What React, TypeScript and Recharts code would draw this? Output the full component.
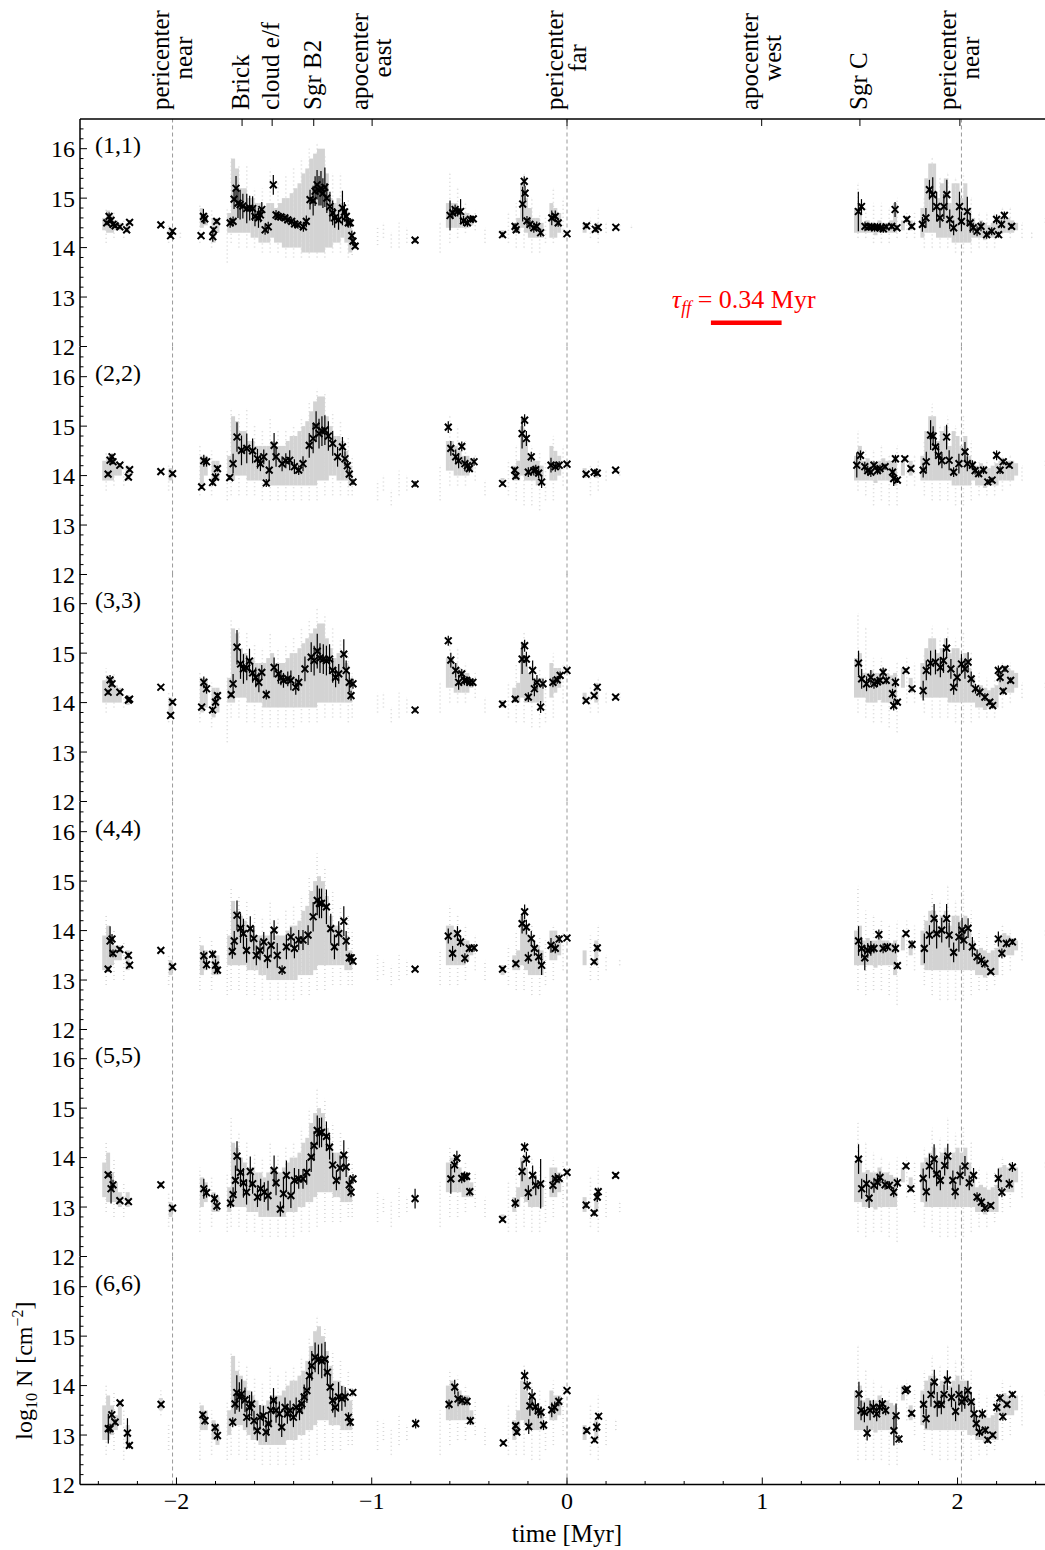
import React from 'react';
import { ScatterChart, Scatter, XAxis, YAxis, ErrorBar, ReferenceLine, ReferenceDot } from 'recharts';

type Pt = [number, number, number];
type Col = [number, number, number];

const FONT = 'Liberation Serif';
const PLOT_H = 227.5;
const TOP0 = 119;
const X_DOMAIN: [number, number] = [-2.494, 2.453];
const Y_DOMAIN: [number, number] = [12, 16.6];

const panelLabels = ['(1,1)', '(2,2)', '(3,3)', '(4,4)', '(5,5)', '(6,6)'];
const yTicks = [12, 12.2, 12.4, 12.6, 12.8, 13, 13.2, 13.4, 13.6, 13.8, 14, 14.2, 14.4, 14.6, 14.8, 15, 15.2, 15.4, 15.6, 15.8, 16, 16.2, 16.4];
const yMajorTicks = [12, 13, 14, 15, 16];
const yTickLabels = ['12', '13', '14', '15', '16'];
const xTicks = [-2.4, -2.2, -2, -1.8, -1.6, -1.4, -1.2, -1, -0.8, -0.6, -0.4, -0.2, 0, 0.2, 0.4, 0.6, 0.8, 1, 1.2, 1.4, 1.6, 1.8, 2, 2.2, 2.4];
const xMajorTicks = [-2, -1, 0, 1, 2];
const xTickLabels = ['\u22122', '\u22121', '0', '1', '2'];

const annotTimes = [-2.02, -1.664, -1.51, -1.297, -0.998, 0, 0.997, 1.5, 2.012];
const annotLine1 = ['pericenter', 'Brick', 'cloud e/f', 'Sgr B2', 'apocenter', 'pericenter', 'apocenter', 'Sgr C', 'pericenter'];
const annotLine2 = ['near', '', '', '', 'east', 'far', 'west', '', 'near'];
const annotHasTick = [false, true, true, true, true, true, true, true, true];

const pericenterTimes = [-2.02, 0, 2.02];
const tauBarStart = 0.737;
const tauBarEnd = 1.099;
const tauBarLevel = 12.479;
const tauTextTime = 0.905;
const tauTextLevel = 12.788;

// ---------------- Panel 1 ----------------
const pts1: Pt[] = [
  [-2.357, 14.5, 0.05], [-2.345, 14.63, 0.08], [-2.335, 14.55, 0.06], [-2.325, 14.47, 0.05], [-2.314, 14.44, 0.04], [-2.29, 14.42, 0.04], [-2.255, 14.36, 0.04], [-2.24, 14.51, 0.04],
  [-2.08, 14.46, 0.03], [-2.03, 14.24, 0.04], [-2.02, 14.33, 0.04],
  [-1.874, 14.24, 0.04], [-1.862, 14.63, 0.15], [-1.855, 14.58, 0.1], [-1.814, 14.22, 0.1], [-1.81, 14.36, 0.05], [-1.794, 14.53, 0.05],
  [-1.725, 14.5, 0.1], [-1.71, 14.53, 0.1], [-1.705, 14.98, 0.2], [-1.695, 15.2, 0.25], [-1.685, 14.9, 0.3], [-1.674, 14.87, 0.3], [-1.66, 14.84, 0.25], [-1.64, 14.79, 0.3], [-1.625, 14.8, 0.25], [-1.61, 14.79, 0.25], [-1.598, 14.63, 0.2], [-1.58, 14.6, 0.2], [-1.57, 14.66, 0.15], [-1.563, 14.77, 0.15], [-1.546, 14.36, 0.1], [-1.53, 14.42, 0.1], [-1.504, 15.27, 0.2], [-1.49, 14.66, 0.1], [-1.48, 14.63, 0.08], [-1.465, 14.62, 0.08], [-1.445, 14.6, 0.08], [-1.43, 14.56, 0.08], [-1.41, 14.53, 0.08], [-1.395, 14.48, 0.08], [-1.378, 14.46, 0.08], [-1.35, 14.42, 0.1], [-1.335, 14.53, 0.12], [-1.316, 14.97, 0.2], [-1.3, 14.95, 0.3], [-1.29, 15.14, 0.3], [-1.28, 15.27, 0.3], [-1.27, 15.15, 0.3], [-1.26, 15.2, 0.35], [-1.25, 15.1, 0.3], [-1.24, 15.22, 0.4], [-1.23, 15.0, 0.3], [-1.214, 14.83, 0.3], [-1.2, 14.7, 0.25], [-1.19, 14.6, 0.2], [-1.17, 14.56, 0.2], [-1.15, 14.8, 0.35], [-1.14, 14.72, 0.2], [-1.13, 14.63, 0.15], [-1.12, 14.5, 0.1], [-1.11, 14.5, 0.1], [-1.102, 14.24, 0.1], [-1.096, 14.13, 0.1], [-1.085, 14.03, 0.05],
  [-0.778, 14.15, 0.05],
  [-0.599, 14.65, 0.3], [-0.585, 14.7, 0.1], [-0.573, 14.77, 0.1], [-0.56, 14.73, 0.1], [-0.545, 14.73, 0.25], [-0.53, 14.54, 0.1], [-0.51, 14.5, 0.08], [-0.495, 14.57, 0.06], [-0.48, 14.58, 0.06],
  [-0.33, 14.26, 0.05], [-0.266, 14.43, 0.06], [-0.26, 14.36, 0.06], [-0.227, 14.88, 0.35], [-0.219, 15.34, 0.1], [-0.215, 15.1, 0.15], [-0.205, 14.54, 0.1], [-0.19, 14.47, 0.1], [-0.17, 14.4, 0.1], [-0.155, 14.43, 0.1], [-0.135, 14.3, 0.08], [-0.078, 14.6, 0.15], [-0.06, 14.63, 0.12], [-0.045, 14.5, 0.08], [0.0, 14.28, 0.04],
  [0.1, 14.44, 0.05], [0.145, 14.37, 0.05], [0.16, 14.41, 0.05], [0.25, 14.41, 0.04],
  [1.492, 14.73, 0.4], [1.508, 14.83, 0.15], [1.526, 14.43, 0.1], [1.545, 14.42, 0.08], [1.56, 14.42, 0.08], [1.575, 14.4, 0.08], [1.59, 14.42, 0.08], [1.605, 14.4, 0.08], [1.62, 14.38, 0.08], [1.635, 14.42, 0.06], [1.663, 14.43, 0.06], [1.68, 14.77, 0.15], [1.69, 14.4, 0.05], [1.74, 14.57, 0.06], [1.765, 14.43, 0.05], [1.82, 14.47, 0.15], [1.838, 14.6, 0.2], [1.856, 15.17, 0.2], [1.873, 15.07, 0.35], [1.893, 14.83, 0.3], [1.91, 14.6, 0.2], [1.93, 14.83, 0.25], [1.945, 15.07, 0.3], [1.96, 14.57, 0.2], [1.98, 14.4, 0.15], [2.01, 14.83, 0.3], [2.02, 14.53, 0.2], [2.05, 14.73, 0.3], [2.065, 14.5, 0.2], [2.08, 14.4, 0.1], [2.1, 14.33, 0.1], [2.12, 14.43, 0.1], [2.149, 14.26, 0.08], [2.175, 14.33, 0.08], [2.2, 14.57, 0.1], [2.21, 14.26, 0.06], [2.225, 14.47, 0.08], [2.24, 14.65, 0.08], [2.277, 14.43, 0.05],
];
const core1: Col[] = [
  [-2.37, 14.35, 14.6], [-2.35, 14.3, 14.75], [-2.33, 14.3, 14.65], [-2.31, 14.35, 14.55], [-2.29, 14.35, 14.5], [-2.25, 14.3, 14.5], [-2.03, 14.2, 14.4],
  [-1.87, 14.4, 14.8], [-1.85, 14.45, 14.7], [-1.81, 14.1, 14.6], [-1.79, 14.3, 14.6],
  [-1.73, 14.3, 14.7], [-1.71, 14.3, 15.8], [-1.69, 14.3, 15.6], [-1.67, 14.3, 15.2], [-1.65, 14.3, 15.2], [-1.63, 14.3, 15.0], [-1.61, 14.2, 15.0], [-1.59, 14.2, 14.9], [-1.57, 14.1, 14.9], [-1.55, 14.1, 14.8], [-1.53, 14.1, 14.9], [-1.51, 14.2, 14.9], [-1.49, 14.1, 14.8], [-1.47, 14.1, 14.9], [-1.45, 14.0, 15.0], [-1.43, 14.0, 15.0], [-1.41, 14.0, 15.1], [-1.39, 14.0, 15.2], [-1.37, 14.0, 15.3], [-1.35, 13.9, 15.5], [-1.33, 13.9, 15.6], [-1.31, 13.9, 15.8], [-1.29, 13.9, 15.9], [-1.27, 13.9, 16.0], [-1.25, 13.9, 16.0], [-1.23, 14.0, 15.5], [-1.21, 14.0, 15.0], [-1.19, 14.1, 14.9], [-1.17, 14.1, 15.0], [-1.15, 14.2, 14.9], [-1.13, 14.1, 14.8], [-1.11, 13.9, 14.4],
  [-0.61, 14.4, 14.9], [-0.59, 14.4, 14.9], [-0.57, 14.4, 14.9], [-0.55, 14.4, 14.8], [-0.53, 14.4, 14.7], [-0.51, 14.4, 14.7], [-0.49, 14.45, 14.65],
  [-0.33, 14.2, 14.35], [-0.27, 14.3, 14.5], [-0.25, 14.3, 14.6], [-0.23, 14.4, 15.3], [-0.21, 14.3, 15.0], [-0.19, 14.2, 14.8], [-0.17, 14.2, 14.6], [-0.15, 14.2, 14.6], [-0.13, 14.2, 14.5], [-0.08, 14.2, 14.9], [-0.06, 14.2, 14.8], [-0.04, 14.3, 14.7],
  [0.09, 14.3, 14.5], [0.15, 14.3, 14.5],
  [1.48, 14.3, 14.8], [1.5, 14.3, 14.9], [1.52, 14.3, 14.5], [1.54, 14.3, 14.55], [1.56, 14.3, 14.5], [1.58, 14.25, 14.5], [1.6, 14.3, 14.55], [1.62, 14.3, 14.5], [1.64, 14.3, 14.5], [1.66, 14.3, 14.55], [1.68, 14.3, 14.9], [1.72, 14.35, 14.55], [1.76, 14.35, 14.55],
  [1.82, 14.2, 14.8], [1.84, 14.3, 15.4], [1.86, 14.3, 15.7], [1.88, 14.3, 15.7], [1.9, 14.2, 15.0], [1.92, 14.2, 15.3], [1.94, 14.2, 15.4], [1.96, 14.2, 14.9], [1.98, 14.1, 15.3], [2.0, 14.1, 15.3], [2.02, 14.1, 15.0], [2.04, 14.1, 15.3], [2.06, 14.1, 14.8], [2.08, 14.2, 14.6], [2.1, 14.2, 14.5], [2.12, 14.2, 14.55], [2.14, 14.15, 14.5], [2.16, 14.2, 14.45], [2.18, 14.2, 14.5], [2.2, 14.2, 14.55], [2.22, 14.3, 14.6], [2.24, 14.3, 14.65], [2.26, 14.3, 14.6], [2.28, 14.3, 14.55], [2.3, 14.35, 14.5],
];
const sparse1: Col[] = [
  [-2.36, 14.1, 14.8], [-2.32, 14.2, 14.75], [-2.27, 14.2, 14.55], [-2.04, 14.1, 14.45], [-1.98, 14.2, 14.3], [-1.88, 14.1, 14.85], [-1.82, 14.0, 14.75], [-1.74, 13.7, 14.8], [-1.72, 14.1, 15.8], [-1.68, 14.0, 15.7], [-1.64, 14.0, 15.7], [-1.6, 14.0, 15.2], [-1.56, 13.9, 15.2], [-1.52, 13.9, 15.6], [-1.48, 13.9, 15.3], [-1.44, 13.8, 15.5], [-1.4, 13.8, 15.6], [-1.36, 13.8, 15.8], [-1.32, 13.8, 16.0], [-1.28, 13.8, 16.1], [-1.24, 13.8, 15.9], [-1.2, 13.9, 15.5], [-1.16, 13.9, 15.5], [-1.12, 13.8, 15.0], [-1.1, 13.85, 14.6],
  [-0.97, 14.05, 14.4], [-0.94, 14.2, 14.5], [-0.9, 14.0, 14.3], [-0.86, 14.0, 14.5], [-0.82, 14.1, 14.4], [-0.65, 13.9, 14.5], [-0.6, 14.1, 15.5], [-0.56, 14.2, 15.2], [-0.52, 14.3, 14.9], [-0.47, 14.35, 14.75], [-0.42, 14.1, 14.4],
  [-0.3, 14.1, 14.7], [-0.26, 14.0, 14.9], [-0.22, 14.0, 15.5], [-0.18, 13.9, 15.0], [-0.14, 13.9, 14.7], [-0.11, 14.1, 14.6], [-0.07, 14.1, 15.2], [-0.02, 14.2, 15.0], [0.12, 14.2, 14.6], [0.16, 14.1, 14.8], [0.2, 14.3, 14.5], [0.27, 14.35, 14.45], [0.33, 14.4, 14.45],
  [1.49, 14.2, 15.3], [1.53, 14.2, 14.8], [1.57, 14.1, 14.9], [1.61, 14.1, 14.9], [1.65, 14.1, 14.8], [1.69, 14.2, 15.0], [1.74, 14.2, 14.7], [1.78, 14.2, 14.7], [1.83, 14.0, 15.0], [1.87, 14.0, 15.8], [1.91, 14.0, 15.4], [1.95, 14.0, 15.5], [1.99, 13.9, 15.4], [2.03, 13.9, 15.5], [2.07, 13.9, 15.0], [2.11, 14.0, 14.7], [2.15, 14.0, 14.7], [2.19, 14.0, 14.7], [2.23, 14.2, 14.8], [2.27, 14.2, 14.8], [2.33, 14.2, 14.5], [2.38, 14.2, 14.3], [2.45, 14.5, 14.6],
];

// ---------------- Panel 2 ----------------
const pts2: Pt[] = [
  [-2.35, 14.03, 0.05], [-2.34, 14.31, 0.08], [-2.33, 14.38, 0.06], [-2.325, 14.28, 0.05], [-2.29, 14.21, 0.04], [-2.246, 13.97, 0.04], [-2.24, 14.12, 0.04], [-2.08, 14.08, 0.03], [-2.02, 14.04, 0.04],
  [-1.871, 13.77, 0.04], [-1.86, 14.3, 0.12], [-1.846, 14.28, 0.1], [-1.815, 13.86, 0.06], [-1.8, 13.97, 0.08], [-1.79, 14.14, 0.06],
  [-1.727, 13.96, 0.05], [-1.71, 14.24, 0.2], [-1.69, 14.78, 0.3], [-1.667, 14.51, 0.3], [-1.64, 14.55, 0.3], [-1.61, 14.5, 0.25], [-1.585, 14.34, 0.2], [-1.57, 14.24, 0.15], [-1.553, 14.38, 0.15], [-1.54, 13.85, 0.08], [-1.525, 14.11, 0.2], [-1.5, 14.61, 0.25], [-1.49, 14.38, 0.2], [-1.459, 14.24, 0.15], [-1.44, 14.3, 0.15], [-1.42, 14.31, 0.2], [-1.396, 14.18, 0.15], [-1.374, 14.11, 0.1], [-1.352, 14.24, 0.15], [-1.32, 14.61, 0.25], [-1.3, 14.75, 0.3], [-1.285, 15.0, 0.3], [-1.27, 14.85, 0.3], [-1.255, 14.9, 0.3], [-1.24, 14.92, 0.3], [-1.222, 14.8, 0.3], [-1.2, 14.65, 0.25], [-1.175, 14.38, 0.2], [-1.15, 14.58, 0.2], [-1.137, 14.34, 0.15], [-1.125, 14.2, 0.1], [-1.115, 14.03, 0.1], [-1.096, 13.87, 0.06],
  [-0.778, 13.83, 0.06],
  [-0.608, 14.98, 0.12], [-0.595, 14.55, 0.15], [-0.57, 14.38, 0.15], [-0.555, 14.3, 0.15], [-0.539, 14.59, 0.1], [-0.523, 14.24, 0.15], [-0.51, 14.2, 0.1], [-0.5, 14.14, 0.08], [-0.476, 14.28, 0.08],
  [-0.33, 13.84, 0.04], [-0.268, 14.11, 0.06], [-0.262, 13.99, 0.06], [-0.23, 14.85, 0.3], [-0.217, 15.12, 0.12], [-0.208, 14.75, 0.15], [-0.198, 14.07, 0.1], [-0.183, 14.38, 0.1], [-0.17, 14.1, 0.1], [-0.16, 14.12, 0.1], [-0.145, 14.05, 0.1], [-0.13, 13.87, 0.12], [-0.082, 14.21, 0.15], [-0.06, 14.18, 0.1], [-0.04, 14.21, 0.08], [0.0, 14.23, 0.04],
  [0.098, 14.03, 0.04], [0.139, 14.07, 0.04], [0.155, 14.05, 0.04], [0.249, 14.11, 0.04],
  [1.484, 14.21, 0.25], [1.503, 14.41, 0.1], [1.525, 14.18, 0.1], [1.54, 14.1, 0.1], [1.556, 14.07, 0.1], [1.572, 14.21, 0.08], [1.59, 14.1, 0.08], [1.603, 14.14, 0.08], [1.629, 14.18, 0.06], [1.667, 14.07, 0.1], [1.673, 13.94, 0.15], [1.682, 14.34, 0.08], [1.692, 13.91, 0.06], [1.73, 14.34, 0.05], [1.761, 14.14, 0.05], [1.824, 14.11, 0.15], [1.84, 14.28, 0.2], [1.862, 14.82, 0.3], [1.875, 14.8, 0.2], [1.887, 14.58, 0.2], [1.903, 14.41, 0.2], [1.92, 14.3, 0.15], [1.944, 14.78, 0.25], [1.957, 14.31, 0.2], [1.98, 14.07, 0.1], [2.007, 14.24, 0.2], [2.038, 14.48, 0.2], [2.05, 14.24, 0.15], [2.076, 14.21, 0.1], [2.09, 14.1, 0.08], [2.108, 14.04, 0.08], [2.133, 14.11, 0.08], [2.155, 13.87, 0.06], [2.177, 13.91, 0.05], [2.2, 14.41, 0.1], [2.218, 14.11, 0.08], [2.234, 14.28, 0.06], [2.265, 14.21, 0.05],
];
const core2: Col[] = [
  [-2.37, 13.9, 14.3], [-2.35, 13.9, 14.4], [-2.33, 13.9, 14.4], [-2.31, 14.0, 14.3], [-2.29, 14.0, 14.25], [-2.25, 13.9, 14.2], [-2.03, 13.9, 14.15],
  [-1.87, 13.8, 14.4], [-1.85, 14.0, 14.4], [-1.81, 13.8, 14.3], [-1.79, 13.9, 14.3],
  [-1.73, 13.9, 14.4], [-1.71, 13.9, 15.2], [-1.69, 14.0, 15.1], [-1.67, 14.0, 14.9], [-1.65, 14.0, 14.9], [-1.63, 13.9, 14.7], [-1.61, 13.9, 14.7], [-1.59, 13.9, 14.6], [-1.57, 13.9, 14.6], [-1.55, 13.9, 14.6], [-1.53, 13.8, 14.6], [-1.51, 13.8, 14.7], [-1.49, 13.8, 14.6], [-1.47, 13.8, 14.6], [-1.45, 13.8, 14.6], [-1.43, 13.8, 14.7], [-1.41, 13.8, 14.8], [-1.39, 13.8, 14.8], [-1.37, 13.8, 14.9], [-1.35, 13.8, 15.0], [-1.33, 13.8, 15.1], [-1.31, 13.8, 15.3], [-1.29, 13.8, 15.5], [-1.27, 13.9, 15.6], [-1.25, 13.9, 15.6], [-1.23, 13.9, 15.2], [-1.21, 14.0, 15.0], [-1.19, 14.0, 14.8], [-1.17, 13.9, 14.8], [-1.15, 13.9, 14.7], [-1.13, 13.9, 14.5], [-1.11, 13.8, 14.2],
  [-0.61, 14.1, 14.7], [-0.59, 14.1, 14.7], [-0.57, 14.0, 14.6], [-0.55, 14.0, 14.5], [-0.53, 14.0, 14.4], [-0.51, 14.0, 14.4], [-0.49, 14.1, 14.35],
  [-0.33, 13.8, 13.95], [-0.27, 13.9, 14.2], [-0.25, 13.9, 14.3], [-0.23, 14.0, 15.0], [-0.21, 13.9, 14.7], [-0.19, 13.9, 14.4], [-0.17, 13.9, 14.3], [-0.15, 13.8, 14.3], [-0.13, 13.8, 14.2], [-0.08, 13.9, 14.6], [-0.06, 13.9, 14.5], [-0.04, 14.0, 14.4],
  [0.09, 13.95, 14.15], [0.15, 13.95, 14.15],
  [1.48, 13.9, 14.4], [1.5, 13.9, 14.6], [1.52, 13.9, 14.3], [1.54, 13.9, 14.35], [1.56, 13.9, 14.3], [1.58, 13.85, 14.25], [1.6, 13.9, 14.3], [1.62, 13.9, 14.35], [1.64, 13.9, 14.3], [1.66, 13.9, 14.3], [1.68, 13.8, 14.4], [1.72, 14.0, 14.3], [1.76, 14.0, 14.3],
  [1.82, 13.9, 14.4], [1.84, 13.9, 14.9], [1.86, 13.9, 15.2], [1.88, 13.9, 15.2], [1.9, 13.9, 14.7], [1.92, 13.9, 14.9], [1.94, 13.9, 15.0], [1.96, 13.9, 14.6], [1.98, 13.8, 14.9], [2.0, 13.8, 14.8], [2.02, 13.8, 14.6], [2.04, 13.8, 14.8], [2.06, 13.8, 14.4], [2.08, 13.9, 14.3], [2.1, 13.8, 14.2], [2.12, 13.8, 14.25], [2.14, 13.75, 14.2], [2.16, 13.8, 14.15], [2.18, 13.8, 14.2], [2.2, 13.8, 14.25], [2.22, 13.9, 14.3], [2.24, 13.9, 14.35], [2.26, 13.9, 14.3], [2.28, 13.9, 14.3], [2.3, 14.0, 14.25],
];
const sparse2: Col[] = [
  [-2.36, 13.7, 14.5], [-2.32, 13.8, 14.45], [-2.27, 13.8, 14.3], [-2.04, 13.7, 14.2], [-1.88, 13.6, 14.6], [-1.82, 13.6, 14.5], [-1.74, 13.5, 14.5], [-1.72, 13.6, 15.35], [-1.68, 13.6, 15.3], [-1.64, 13.6, 15.35], [-1.6, 13.6, 15.0], [-1.56, 13.5, 14.9], [-1.52, 13.5, 15.2], [-1.48, 13.5, 14.9], [-1.44, 13.5, 14.9], [-1.4, 13.5, 15.0], [-1.36, 13.5, 15.2], [-1.32, 13.5, 15.5], [-1.28, 13.5, 15.75], [-1.24, 13.6, 15.7], [-1.2, 13.6, 15.3], [-1.16, 13.6, 15.1], [-1.12, 13.6, 14.8], [-1.1, 13.6, 14.4],
  [-0.97, 13.5, 13.9], [-0.94, 13.7, 14.0], [-0.9, 13.4, 13.7], [-0.86, 13.6, 14.1], [-0.82, 13.7, 14.0], [-0.65, 13.5, 14.2], [-0.6, 13.8, 15.2], [-0.56, 13.8, 15.0], [-0.52, 13.8, 14.7], [-0.47, 13.9, 14.4], [-0.42, 13.6, 13.9],
  [-0.3, 13.6, 14.3], [-0.26, 13.5, 14.6], [-0.22, 13.4, 15.2], [-0.18, 13.4, 14.6], [-0.14, 13.3, 14.5], [-0.11, 13.5, 14.3], [-0.07, 13.5, 14.8], [-0.02, 13.8, 14.6], [0.12, 13.6, 14.2], [0.16, 13.7, 14.3], [0.2, 13.9, 14.1], [0.27, 14.0, 14.1],
  [1.49, 13.7, 14.9], [1.53, 13.6, 14.5], [1.57, 13.4, 14.5], [1.61, 13.5, 14.6], [1.65, 13.4, 14.4], [1.69, 13.4, 14.6], [1.74, 13.8, 14.4], [1.78, 13.8, 14.4], [1.83, 13.6, 14.7], [1.87, 13.5, 15.45], [1.91, 13.5, 15.0], [1.95, 13.5, 15.2], [1.99, 13.4, 15.0], [2.03, 13.4, 15.2], [2.07, 13.5, 14.7], [2.11, 13.6, 14.3], [2.15, 13.6, 14.3], [2.19, 13.6, 14.3], [2.23, 13.7, 14.4], [2.27, 13.8, 14.4], [2.33, 13.9, 14.2], [2.45, 14.2, 14.3],
];

// ---------------- Panel 3 ----------------
const pts3: Pt[] = [
  [-2.35, 14.21, 0.05], [-2.34, 14.46, 0.1], [-2.33, 14.38, 0.06], [-2.29, 14.21, 0.04], [-2.246, 14.05, 0.04], [-2.24, 14.07, 0.04], [-2.08, 14.31, 0.03], [-2.03, 13.74, 0.04], [-2.02, 14.01, 0.04],
  [-1.871, 13.91, 0.04], [-1.86, 14.41, 0.12], [-1.846, 14.28, 0.1], [-1.815, 13.85, 0.06], [-1.8, 14.01, 0.12], [-1.79, 14.14, 0.06],
  [-1.72, 14.16, 0.05], [-1.71, 14.38, 0.2], [-1.69, 15.12, 0.35], [-1.672, 14.78, 0.3], [-1.657, 14.68, 0.3], [-1.64, 14.7, 0.25], [-1.626, 14.84, 0.25], [-1.61, 14.6, 0.2], [-1.594, 14.51, 0.2], [-1.578, 14.41, 0.2], [-1.563, 14.61, 0.15], [-1.54, 14.16, 0.1], [-1.5, 14.71, 0.2], [-1.478, 14.58, 0.2], [-1.465, 14.5, 0.15], [-1.452, 14.45, 0.15], [-1.43, 14.48, 0.15], [-1.414, 14.45, 0.2], [-1.389, 14.31, 0.15], [-1.374, 14.41, 0.15], [-1.342, 14.68, 0.25], [-1.31, 14.92, 0.3], [-1.295, 14.85, 0.3], [-1.279, 15.04, 0.35], [-1.265, 14.9, 0.3], [-1.248, 14.88, 0.3], [-1.232, 14.85, 0.3], [-1.216, 14.88, 0.3], [-1.2, 14.65, 0.25], [-1.185, 14.51, 0.2], [-1.169, 14.58, 0.2], [-1.143, 14.98, 0.3], [-1.131, 14.65, 0.2], [-1.115, 14.41, 0.2], [-1.106, 14.14, 0.1], [-1.096, 14.38, 0.1],
  [-0.778, 13.85, 0.05],
  [-0.608, 15.25, 0.1], [-0.595, 14.86, 0.15], [-0.57, 14.65, 0.15], [-0.555, 14.41, 0.15], [-0.539, 14.58, 0.1], [-0.525, 14.45, 0.1], [-0.514, 14.45, 0.08], [-0.498, 14.41, 0.08], [-0.482, 14.41, 0.08],
  [-0.33, 13.97, 0.04], [-0.265, 14.07, 0.06], [-0.23, 14.88, 0.3], [-0.217, 15.15, 0.12], [-0.208, 14.88, 0.15], [-0.198, 14.11, 0.1], [-0.176, 14.65, 0.2], [-0.167, 14.28, 0.15], [-0.154, 14.41, 0.15], [-0.135, 13.91, 0.12], [-0.123, 14.38, 0.1], [-0.072, 14.41, 0.1], [-0.05, 14.46, 0.08], [-0.035, 14.55, 0.08], [0.0, 14.65, 0.04],
  [0.098, 14.04, 0.04], [0.139, 14.14, 0.04], [0.155, 14.31, 0.05], [0.249, 14.11, 0.04],
  [1.493, 14.8, 0.25], [1.509, 14.48, 0.2], [1.534, 14.38, 0.15], [1.556, 14.51, 0.15], [1.572, 14.38, 0.1], [1.59, 14.42, 0.1], [1.603, 14.45, 0.1], [1.619, 14.61, 0.1], [1.635, 14.45, 0.08], [1.667, 14.18, 0.1], [1.673, 13.94, 0.1], [1.682, 14.41, 0.1], [1.692, 14.01, 0.06], [1.736, 14.65, 0.05], [1.767, 14.28, 0.05], [1.824, 14.24, 0.2], [1.84, 14.65, 0.2], [1.862, 14.8, 0.25], [1.887, 14.82, 0.25], [1.912, 14.71, 0.2], [1.928, 14.85, 0.25], [1.944, 15.1, 0.2], [1.966, 14.68, 0.2], [1.98, 14.31, 0.15], [1.998, 14.51, 0.2], [2.02, 14.78, 0.2], [2.038, 14.68, 0.2], [2.054, 14.82, 0.2], [2.07, 14.48, 0.15], [2.092, 14.28, 0.1], [2.114, 14.21, 0.1], [2.14, 14.11, 0.08], [2.165, 14.01, 0.06], [2.18, 13.94, 0.06], [2.209, 14.65, 0.1], [2.218, 14.51, 0.1], [2.234, 14.23, 0.06], [2.243, 14.68, 0.06], [2.272, 14.45, 0.06],
];
const core3: Col[] = [
  [-2.37, 14.0, 14.45], [-2.35, 14.0, 14.55], [-2.33, 14.0, 14.5], [-2.31, 14.0, 14.35], [-2.29, 14.0, 14.3], [-2.25, 13.95, 14.15], [-2.03, 13.7, 14.1],
  [-1.87, 13.8, 14.5], [-1.85, 13.9, 14.5], [-1.81, 13.7, 14.3], [-1.79, 13.8, 14.3],
  [-1.73, 14.0, 14.5], [-1.71, 14.0, 15.5], [-1.69, 14.1, 15.4], [-1.67, 14.1, 15.1], [-1.65, 14.1, 15.0], [-1.63, 14.0, 14.9], [-1.61, 14.0, 14.9], [-1.59, 14.0, 14.8], [-1.57, 14.0, 14.8], [-1.55, 13.9, 14.8], [-1.53, 13.9, 14.9], [-1.51, 13.9, 15.0], [-1.49, 13.9, 14.8], [-1.47, 13.9, 14.8], [-1.45, 13.9, 14.8], [-1.43, 13.9, 14.9], [-1.41, 13.9, 15.0], [-1.39, 13.9, 15.0], [-1.37, 13.9, 15.1], [-1.35, 13.9, 15.2], [-1.33, 13.9, 15.3], [-1.31, 13.9, 15.4], [-1.29, 13.9, 15.5], [-1.27, 14.0, 15.6], [-1.25, 14.0, 15.6], [-1.23, 14.0, 15.3], [-1.21, 14.0, 15.1], [-1.19, 14.0, 14.9], [-1.17, 14.0, 15.0], [-1.15, 14.0, 15.0], [-1.13, 14.0, 14.8], [-1.11, 14.0, 14.5],
  [-0.61, 14.3, 14.9], [-0.59, 14.3, 14.9], [-0.57, 14.2, 14.8], [-0.55, 14.2, 14.7], [-0.53, 14.2, 14.6], [-0.51, 14.2, 14.6], [-0.49, 14.3, 14.5],
  [-0.33, 13.9, 14.05], [-0.27, 14.0, 14.3], [-0.25, 14.0, 14.4], [-0.23, 14.1, 15.1], [-0.21, 14.0, 14.9], [-0.19, 14.0, 14.6], [-0.17, 14.0, 14.5], [-0.15, 14.0, 14.5], [-0.13, 14.0, 14.5], [-0.08, 14.1, 14.8], [-0.06, 14.2, 14.7], [-0.04, 14.3, 14.7],
  [0.09, 14.0, 14.2], [0.15, 14.0, 14.4],
  [1.48, 14.1, 14.9], [1.5, 14.1, 15.0], [1.52, 14.1, 14.6], [1.54, 14.0, 14.6], [1.56, 14.0, 14.65], [1.58, 14.0, 14.6], [1.6, 14.05, 14.6], [1.62, 14.0, 14.7], [1.64, 14.0, 14.6], [1.66, 14.0, 14.55], [1.68, 13.9, 14.6], [1.72, 14.3, 14.7], [1.76, 14.2, 14.5],
  [1.82, 14.1, 14.8], [1.84, 14.1, 15.1], [1.86, 14.1, 15.3], [1.88, 14.1, 15.3], [1.9, 14.1, 15.0], [1.92, 14.1, 15.1], [1.94, 14.1, 15.3], [1.96, 14.0, 15.0], [1.98, 14.0, 15.1], [2.0, 14.0, 15.1], [2.02, 14.0, 14.9], [2.04, 14.0, 15.0], [2.06, 14.0, 14.7], [2.08, 14.0, 14.5], [2.1, 13.9, 14.3], [2.12, 13.9, 14.35], [2.14, 13.85, 14.3], [2.16, 13.9, 14.25], [2.18, 13.9, 14.3], [2.2, 13.9, 14.35], [2.22, 14.2, 14.7], [2.24, 14.2, 14.75], [2.26, 14.2, 14.7], [2.28, 14.2, 14.65], [2.3, 14.3, 14.6],
];
const sparse3: Col[] = [
  [-2.36, 13.8, 14.7], [-2.32, 13.9, 14.6], [-2.27, 13.9, 14.3], [-2.04, 13.6, 14.2], [-1.88, 13.6, 14.6], [-1.82, 13.5, 14.4], [-1.74, 13.2, 14.5], [-1.72, 13.7, 15.72], [-1.68, 13.7, 15.5], [-1.64, 13.6, 15.4], [-1.6, 13.6, 15.2], [-1.56, 13.5, 15.1], [-1.52, 13.5, 15.4], [-1.48, 13.5, 15.1], [-1.44, 13.5, 15.2], [-1.4, 13.5, 15.3], [-1.36, 13.6, 15.5], [-1.32, 13.6, 15.7], [-1.28, 13.6, 15.9], [-1.24, 13.7, 15.8], [-1.2, 13.7, 15.5], [-1.16, 13.7, 15.3], [-1.12, 13.6, 15.0], [-1.1, 13.7, 14.6],
  [-0.97, 13.8, 14.2], [-0.94, 13.9, 14.2], [-0.9, 13.6, 13.9], [-0.86, 13.7, 14.2], [-0.82, 13.8, 14.1], [-0.65, 13.8, 14.4], [-0.6, 14.0, 15.3], [-0.56, 14.0, 15.1], [-0.52, 14.0, 14.8], [-0.47, 14.1, 14.6], [-0.42, 13.8, 14.1],
  [-0.3, 13.7, 14.4], [-0.26, 13.6, 14.8], [-0.22, 13.6, 15.4], [-0.18, 13.5, 14.8], [-0.14, 13.5, 14.7], [-0.11, 13.6, 14.5], [-0.07, 13.7, 15.0], [-0.02, 14.0, 14.8], [0.12, 13.8, 14.3], [0.16, 13.8, 14.5], [0.2, 14.0, 14.2], [0.27, 14.1, 14.2],
  [1.49, 13.8, 15.8], [1.53, 13.7, 15.5], [1.57, 13.6, 14.9], [1.61, 13.6, 14.9], [1.65, 13.5, 14.7], [1.69, 13.4, 14.8], [1.74, 14.0, 14.9], [1.78, 14.0, 14.8], [1.83, 13.8, 15.0], [1.87, 13.7, 15.55], [1.91, 13.7, 15.3], [1.95, 13.7, 15.5], [1.99, 13.6, 15.3], [2.03, 13.6, 15.4], [2.07, 13.6, 15.0], [2.11, 13.7, 14.6], [2.15, 13.7, 14.5], [2.19, 13.7, 14.5], [2.23, 13.9, 14.8], [2.27, 14.0, 14.8], [2.33, 14.1, 14.4], [2.45, 14.3, 14.4],
];

// ---------------- Panel 4 ----------------
const pts4: Pt[] = [
  [-2.35, 13.22, 0.05], [-2.34, 13.79, 0.3], [-2.33, 13.83, 0.1], [-2.325, 13.54, 0.08], [-2.29, 13.62, 0.05], [-2.246, 13.5, 0.05], [-2.24, 13.3, 0.05], [-2.08, 13.6, 0.03], [-2.02, 13.27, 0.04],
  [-1.86, 13.49, 0.1], [-1.846, 13.31, 0.1], [-1.815, 13.52, 0.08], [-1.8, 13.3, 0.12], [-1.79, 13.2, 0.08],
  [-1.714, 13.58, 0.15], [-1.704, 13.79, 0.2], [-1.69, 14.31, 0.3], [-1.672, 14.05, 0.3], [-1.657, 13.94, 0.3], [-1.641, 13.6, 0.25], [-1.622, 14.04, 0.25], [-1.604, 13.84, 0.25], [-1.591, 13.5, 0.2], [-1.572, 13.6, 0.2], [-1.553, 13.77, 0.2], [-1.534, 13.44, 0.2], [-1.515, 13.7, 0.25], [-1.5, 14.01, 0.2], [-1.484, 13.5, 0.25], [-1.459, 13.2, 0.1], [-1.437, 13.67, 0.25], [-1.414, 13.87, 0.2], [-1.396, 13.64, 0.2], [-1.374, 13.81, 0.2], [-1.352, 13.81, 0.2], [-1.326, 13.91, 0.2], [-1.3, 14.28, 0.3], [-1.279, 14.61, 0.3], [-1.268, 14.55, 0.3], [-1.257, 14.55, 0.3], [-1.232, 14.48, 0.35], [-1.21, 14.04, 0.3], [-1.191, 13.67, 0.25], [-1.169, 13.94, 0.25], [-1.143, 14.19, 0.3], [-1.131, 13.79, 0.2], [-1.115, 13.45, 0.1], [-1.105, 13.45, 0.08], [-1.096, 13.38, 0.06],
  [-0.778, 13.22, 0.04],
  [-0.608, 13.89, 0.15], [-0.586, 13.54, 0.15], [-0.561, 13.94, 0.15], [-0.545, 13.77, 0.1], [-0.523, 13.44, 0.1], [-0.5, 13.64, 0.08], [-0.476, 13.65, 0.08],
  [-0.33, 13.22, 0.04], [-0.262, 13.33, 0.05], [-0.23, 14.14, 0.2], [-0.217, 14.38, 0.15], [-0.208, 14.07, 0.15], [-0.198, 13.45, 0.12], [-0.183, 13.84, 0.15], [-0.167, 13.64, 0.15], [-0.145, 13.47, 0.15], [-0.13, 13.3, 0.2], [-0.082, 13.7, 0.15], [-0.06, 13.64, 0.1], [-0.04, 13.83, 0.08], [0.0, 13.85, 0.04],
  [0.139, 13.37, 0.05], [0.155, 13.65, 0.06],
  [1.493, 13.79, 0.3], [1.509, 13.64, 0.2], [1.525, 13.45, 0.25], [1.54, 13.6, 0.15], [1.556, 13.64, 0.15], [1.572, 13.64, 0.1], [1.597, 13.92, 0.1], [1.619, 13.64, 0.1], [1.641, 13.67, 0.08], [1.682, 13.64, 0.1], [1.692, 13.29, 0.06], [1.736, 13.94, 0.05], [1.767, 13.72, 0.08], [1.83, 13.64, 0.3], [1.856, 13.91, 0.2], [1.88, 14.24, 0.3], [1.893, 13.94, 0.3], [1.919, 14.01, 0.25], [1.944, 14.24, 0.3], [1.957, 13.91, 0.25], [1.98, 13.56, 0.2], [2.007, 13.87, 0.3], [2.023, 14.01, 0.25], [2.032, 13.81, 0.2], [2.054, 14.05, 0.2], [2.076, 13.67, 0.2], [2.1, 13.47, 0.15], [2.122, 13.4, 0.1], [2.14, 13.33, 0.08], [2.17, 13.17, 0.04], [2.209, 13.83, 0.15], [2.227, 13.54, 0.1], [2.25, 13.74, 0.08], [2.281, 13.77, 0.06],
];
const core4: Col[] = [
  [-2.37, 13.2, 13.9], [-2.35, 13.2, 14.1], [-2.33, 13.3, 13.9], [-2.31, 13.4, 13.7], [-2.29, 13.4, 13.7], [-2.25, 13.2, 13.6], [-2.03, 13.1, 13.4],
  [-1.87, 13.1, 13.7], [-1.85, 13.2, 13.6], [-1.81, 13.1, 13.6], [-1.79, 13.1, 13.5],
  [-1.73, 13.3, 13.9], [-1.71, 13.3, 14.6], [-1.69, 13.3, 14.4], [-1.67, 13.3, 14.3], [-1.65, 13.3, 14.2], [-1.63, 13.2, 14.0], [-1.61, 13.2, 14.0], [-1.59, 13.2, 13.9], [-1.57, 13.1, 13.9], [-1.55, 13.1, 13.9], [-1.53, 13.0, 13.9], [-1.51, 13.0, 14.0], [-1.49, 13.0, 13.9], [-1.47, 13.0, 13.9], [-1.45, 13.0, 13.9], [-1.43, 13.0, 14.0], [-1.41, 13.0, 14.1], [-1.39, 13.0, 14.1], [-1.37, 13.1, 14.2], [-1.35, 13.1, 14.4], [-1.33, 13.1, 14.5], [-1.31, 13.1, 14.8], [-1.29, 13.2, 15.0], [-1.27, 13.3, 15.1], [-1.25, 13.3, 15.0], [-1.23, 13.3, 14.7], [-1.21, 13.3, 14.3], [-1.19, 13.3, 14.1], [-1.17, 13.3, 14.1], [-1.15, 13.3, 14.0], [-1.13, 13.2, 13.9], [-1.11, 13.2, 13.6],
  [-0.61, 13.3, 14.1], [-0.59, 13.3, 14.1], [-0.57, 13.3, 14.0], [-0.55, 13.3, 13.9], [-0.53, 13.3, 13.8], [-0.51, 13.4, 13.8], [-0.49, 13.5, 13.7],
  [-0.33, 13.1, 13.3], [-0.27, 13.2, 13.5], [-0.25, 13.2, 13.6], [-0.23, 13.3, 14.3], [-0.21, 13.2, 14.1], [-0.19, 13.1, 13.9], [-0.17, 13.1, 13.8], [-0.15, 13.1, 13.7], [-0.13, 13.1, 13.6], [-0.08, 13.4, 14.0], [-0.06, 13.4, 14.0], [-0.04, 13.5, 13.9],
  [0.09, 13.3, 13.6], [0.15, 13.3, 13.8],
  [1.48, 13.3, 14.0], [1.5, 13.3, 14.1], [1.52, 13.3, 13.8], [1.54, 13.3, 13.85], [1.56, 13.3, 13.8], [1.58, 13.25, 13.8], [1.6, 13.3, 13.9], [1.62, 13.3, 13.8], [1.64, 13.3, 13.8], [1.66, 13.3, 13.75], [1.68, 13.1, 13.8], [1.72, 13.6, 13.9], [1.76, 13.5, 13.8],
  [1.82, 13.3, 14.0], [1.84, 13.2, 14.2], [1.86, 13.2, 14.4], [1.88, 13.2, 14.4], [1.9, 13.2, 14.1], [1.92, 13.2, 14.3], [1.94, 13.2, 14.4], [1.96, 13.2, 14.1], [1.98, 13.2, 14.3], [2.0, 13.2, 14.3], [2.02, 13.2, 14.2], [2.04, 13.2, 14.3], [2.06, 13.2, 14.0], [2.08, 13.2, 13.8], [2.1, 13.1, 13.6], [2.12, 13.1, 13.65], [2.14, 13.05, 13.6], [2.16, 13.1, 13.55], [2.18, 13.1, 13.6], [2.2, 13.1, 13.65], [2.22, 13.5, 13.9], [2.24, 13.5, 13.95], [2.26, 13.5, 13.9], [2.28, 13.5, 13.85], [2.3, 13.6, 13.8],
];
const sparse4: Col[] = [
  [-2.36, 12.9, 14.3], [-2.32, 13.0, 14.0], [-2.27, 13.0, 13.8], [-2.04, 12.9, 13.5], [-1.88, 12.8, 13.9], [-1.82, 12.8, 13.8], [-1.74, 12.7, 14.0], [-1.72, 12.8, 14.88], [-1.68, 12.8, 14.7], [-1.64, 12.7, 14.6], [-1.6, 12.7, 14.4], [-1.56, 12.6, 14.3], [-1.52, 12.6, 14.6], [-1.48, 12.6, 14.3], [-1.44, 12.6, 14.4], [-1.4, 12.6, 14.5], [-1.36, 12.7, 14.7], [-1.32, 12.7, 15.1], [-1.28, 12.8, 15.56], [-1.24, 12.8, 15.3], [-1.2, 12.9, 14.8], [-1.16, 12.9, 14.5], [-1.12, 12.9, 14.3], [-1.1, 12.9, 14.0],
  [-0.97, 13.0, 13.5], [-0.94, 13.1, 13.4], [-0.9, 12.9, 13.3], [-0.86, 13.0, 13.5], [-0.82, 13.1, 13.4], [-0.65, 12.9, 13.6], [-0.6, 12.9, 14.5], [-0.56, 12.9, 14.3], [-0.52, 13.0, 14.1], [-0.47, 13.2, 13.9], [-0.42, 13.0, 13.4],
  [-0.3, 12.9, 13.7], [-0.26, 12.8, 14.0], [-0.22, 12.8, 14.4], [-0.18, 12.7, 14.1], [-0.14, 12.7, 13.9], [-0.11, 12.9, 13.8], [-0.07, 13.0, 14.1], [-0.02, 13.2, 14.0], [0.12, 13.0, 13.9], [0.16, 13.0, 14.1], [0.2, 13.2, 13.5], [0.27, 13.3, 13.4],
  [1.49, 12.8, 14.9], [1.53, 12.7, 14.4], [1.57, 12.8, 14.3], [1.61, 12.8, 14.2], [1.65, 12.7, 14.1], [1.69, 12.5, 14.2], [1.74, 13.3, 14.2], [1.78, 13.2, 14.1], [1.83, 12.9, 14.3], [1.87, 12.7, 14.8], [1.91, 12.6, 14.6], [1.95, 12.6, 14.9], [1.99, 12.6, 14.6], [2.03, 12.6, 14.8], [2.07, 12.7, 14.4], [2.11, 12.8, 14.0], [2.15, 12.8, 13.9], [2.19, 12.9, 13.9], [2.23, 13.1, 14.1], [2.27, 13.2, 14.0], [2.33, 13.4, 13.8], [2.45, 13.9, 14.0],
];

// ---------------- Panel 5 ----------------
const pts5: Pt[] = [
  [-2.35, 13.65, 0.05], [-2.335, 13.37, 0.3], [-2.325, 13.45, 0.1], [-2.29, 13.13, 0.04], [-2.246, 13.11, 0.04], [-2.08, 13.45, 0.05], [-2.02, 12.98, 0.05],
  [-1.86, 13.37, 0.2], [-1.846, 13.29, 0.1], [-1.805, 13.17, 0.1], [-1.793, 13.02, 0.1],
  [-1.723, 13.08, 0.1], [-1.71, 13.25, 0.15], [-1.698, 13.54, 0.3], [-1.69, 14.03, 0.3], [-1.672, 13.7, 0.3], [-1.657, 13.49, 0.3], [-1.641, 13.3, 0.25], [-1.622, 13.72, 0.3], [-1.61, 13.47, 0.2], [-1.585, 13.2, 0.2], [-1.569, 13.37, 0.2], [-1.55, 13.3, 0.2], [-1.531, 13.23, 0.3], [-1.5, 13.74, 0.3], [-1.49, 13.49, 0.25], [-1.468, 12.96, 0.15], [-1.452, 13.27, 0.3], [-1.437, 13.64, 0.3], [-1.414, 13.23, 0.25], [-1.396, 13.54, 0.25], [-1.374, 13.57, 0.2], [-1.352, 13.57, 0.2], [-1.333, 13.7, 0.25], [-1.31, 14.01, 0.3], [-1.295, 14.24, 0.3], [-1.279, 14.55, 0.3], [-1.268, 14.5, 0.3], [-1.257, 14.51, 0.3], [-1.232, 14.43, 0.3], [-1.216, 14.21, 0.25], [-1.2, 13.85, 0.25], [-1.181, 13.54, 0.2], [-1.162, 13.79, 0.25], [-1.143, 14.05, 0.3], [-1.131, 13.81, 0.2], [-1.115, 13.45, 0.15], [-1.106, 13.3, 0.1], [-1.096, 13.57, 0.1],
  [-0.778, 13.17, 0.2],
  [-0.595, 13.57, 0.3], [-0.576, 13.85, 0.15], [-0.564, 13.99, 0.15], [-0.539, 13.58, 0.1], [-0.525, 13.62, 0.1], [-0.514, 13.62, 0.08], [-0.498, 13.31, 0.08],
  [-0.33, 12.75, 0.04], [-0.265, 13.08, 0.1], [-0.23, 13.72, 0.2], [-0.217, 14.21, 0.1], [-0.208, 13.97, 0.15], [-0.198, 13.29, 0.15], [-0.176, 13.64, 0.2], [-0.16, 13.44, 0.2], [-0.135, 13.47, 0.5], [-0.072, 13.44, 0.15], [-0.06, 13.57, 0.12], [-0.04, 13.58, 0.1], [0.0, 13.7, 0.04],
  [0.098, 13.04, 0.06], [0.139, 12.88, 0.06], [0.155, 13.2, 0.1], [0.16, 13.31, 0.08], [0.249, 13.64, 0.05],
  [1.493, 13.97, 0.3], [1.509, 13.37, 0.2], [1.534, 13.47, 0.2], [1.547, 13.18, 0.2], [1.572, 13.44, 0.15], [1.59, 13.5, 0.15], [1.603, 13.6, 0.12], [1.629, 13.45, 0.1], [1.651, 13.44, 0.08], [1.673, 13.3, 0.1], [1.692, 13.49, 0.1], [1.736, 13.83, 0.05], [1.761, 13.37, 0.05], [1.824, 13.58, 0.2], [1.84, 13.31, 0.2], [1.856, 13.83, 0.25], [1.88, 13.97, 0.3], [1.893, 13.67, 0.25], [1.912, 13.54, 0.2], [1.934, 13.84, 0.2], [1.95, 14.03, 0.25], [1.976, 13.54, 0.2], [1.988, 13.31, 0.15], [2.013, 13.64, 0.2], [2.038, 13.83, 0.2], [2.06, 13.49, 0.15], [2.082, 13.64, 0.15], [2.1, 13.2, 0.1], [2.122, 13.1, 0.1], [2.14, 12.98, 0.08], [2.17, 13.03, 0.05], [2.209, 13.58, 0.2], [2.227, 13.3, 0.1], [2.265, 13.47, 0.1], [2.281, 13.81, 0.1],
];
const core5: Col[] = [
  [-2.37, 13.2, 13.9], [-2.35, 13.1, 14.1], [-2.33, 13.1, 13.7], [-2.31, 13.1, 13.5], [-2.29, 13.0, 13.3], [-2.25, 13.0, 13.3], [-2.03, 12.8, 13.1],
  [-1.87, 13.0, 13.6], [-1.85, 13.1, 13.5], [-1.81, 12.9, 13.3], [-1.79, 12.9, 13.2],
  [-1.73, 12.9, 13.4], [-1.71, 13.0, 14.3], [-1.69, 13.0, 14.2], [-1.67, 13.0, 14.0], [-1.65, 13.0, 13.9], [-1.63, 12.9, 13.8], [-1.61, 12.9, 13.8], [-1.59, 12.9, 13.7], [-1.57, 12.8, 13.7], [-1.55, 12.8, 13.6], [-1.53, 12.8, 13.7], [-1.51, 12.8, 13.8], [-1.49, 12.8, 13.7], [-1.47, 12.8, 13.7], [-1.45, 12.8, 13.8], [-1.43, 12.9, 13.9], [-1.41, 12.9, 14.0], [-1.39, 12.9, 14.0], [-1.37, 13.0, 14.1], [-1.35, 13.0, 14.3], [-1.33, 13.1, 14.4], [-1.31, 13.1, 14.7], [-1.29, 13.2, 14.9], [-1.27, 13.3, 15.0], [-1.25, 13.3, 14.9], [-1.23, 13.3, 14.6], [-1.21, 13.3, 14.3], [-1.19, 13.2, 14.1], [-1.17, 13.2, 14.1], [-1.15, 13.1, 14.0], [-1.13, 13.1, 13.8], [-1.11, 13.1, 13.6],
  [-0.61, 13.3, 13.9], [-0.59, 13.3, 14.0], [-0.57, 13.3, 13.9], [-0.55, 13.3, 13.8], [-0.53, 13.2, 13.7], [-0.51, 13.2, 13.7], [-0.49, 13.2, 13.5],
  [-0.33, 12.7, 12.85], [-0.27, 12.9, 13.2], [-0.25, 13.0, 13.4], [-0.23, 13.2, 14.0], [-0.21, 13.1, 13.8], [-0.19, 13.0, 13.6], [-0.17, 13.0, 13.6], [-0.15, 13.0, 13.5], [-0.13, 13.0, 13.5], [-0.08, 13.2, 13.8], [-0.06, 13.2, 13.8], [-0.04, 13.3, 13.7],
  [0.09, 12.9, 13.2], [0.15, 12.9, 13.3],
  [1.48, 13.1, 13.9], [1.5, 13.1, 14.0], [1.52, 13.0, 13.7], [1.54, 13.0, 13.75], [1.56, 13.0, 13.7], [1.58, 12.95, 13.7], [1.6, 13.0, 13.8], [1.62, 13.0, 13.7], [1.64, 13.0, 13.7], [1.66, 13.0, 13.65], [1.68, 13.0, 13.6], [1.72, 13.5, 13.8], [1.76, 13.3, 13.6],
  [1.82, 13.1, 13.9], [1.84, 13.0, 14.0], [1.86, 13.0, 14.1], [1.88, 13.0, 14.2], [1.9, 13.0, 14.0], [1.92, 13.0, 14.1], [1.94, 13.0, 14.2], [1.96, 13.0, 14.0], [1.98, 13.0, 14.1], [2.0, 13.0, 14.2], [2.02, 13.0, 14.1], [2.04, 13.0, 14.2], [2.06, 13.0, 13.9], [2.08, 13.0, 13.7], [2.1, 12.9, 13.4], [2.12, 12.9, 13.45], [2.14, 12.85, 13.4], [2.16, 12.9, 13.35], [2.18, 12.9, 13.4], [2.2, 12.9, 13.45], [2.22, 13.3, 13.8], [2.24, 13.3, 13.85], [2.26, 13.3, 13.8], [2.28, 13.3, 13.75], [2.3, 13.5, 13.8],
];
const sparse5: Col[] = [
  [-2.36, 12.9, 14.3], [-2.32, 12.8, 14.0], [-2.27, 12.8, 13.5], [-2.04, 12.6, 13.3], [-1.88, 12.5, 13.8], [-1.82, 12.6, 13.6], [-1.74, 12.5, 13.7], [-1.72, 12.6, 14.8], [-1.68, 12.6, 14.5], [-1.64, 12.5, 14.3], [-1.6, 12.5, 14.1], [-1.56, 12.4, 14.0], [-1.52, 12.4, 14.3], [-1.48, 12.4, 14.1], [-1.44, 12.4, 14.2], [-1.4, 12.4, 14.3], [-1.36, 12.5, 14.6], [-1.32, 12.5, 15.0], [-1.28, 12.6, 15.39], [-1.24, 12.7, 15.2], [-1.2, 12.7, 14.7], [-1.16, 12.7, 14.5], [-1.12, 12.8, 14.2], [-1.1, 12.8, 13.9],
  [-0.97, 12.7, 13.3], [-0.94, 12.9, 13.2], [-0.9, 12.6, 13.1], [-0.86, 12.8, 13.4], [-0.82, 12.9, 13.2], [-0.65, 12.6, 13.5], [-0.6, 12.8, 14.2], [-0.56, 12.8, 14.1], [-0.52, 12.9, 13.9], [-0.47, 13.0, 13.7], [-0.42, 12.8, 13.2],
  [-0.3, 12.5, 13.5], [-0.26, 12.5, 13.8], [-0.22, 12.6, 14.3], [-0.18, 12.5, 14.0], [-0.14, 12.5, 13.8], [-0.11, 12.7, 13.6], [-0.07, 12.8, 14.0], [-0.02, 13.0, 13.9], [0.12, 12.6, 13.6], [0.16, 12.5, 13.8], [0.2, 12.8, 13.3], [0.27, 12.9, 13.1],
  [1.49, 12.5, 14.7], [1.53, 12.4, 14.3], [1.57, 12.5, 14.1], [1.61, 12.5, 14.0], [1.65, 12.4, 13.9], [1.69, 12.3, 14.0], [1.74, 13.2, 14.0], [1.78, 12.9, 13.9], [1.83, 12.6, 14.2], [1.87, 12.5, 14.6], [1.91, 12.4, 14.4], [1.95, 12.4, 14.8], [1.99, 12.4, 14.5], [2.03, 12.4, 14.6], [2.07, 12.5, 14.3], [2.11, 12.6, 13.8], [2.15, 12.6, 13.7], [2.19, 12.7, 13.7], [2.23, 12.9, 14.0], [2.27, 13.0, 13.9], [2.33, 13.2, 13.7], [2.45, 13.8, 13.9],
];

// ---------------- Panel 6 ----------------
const pts6: Pt[] = [
  [-2.349, 13.13, 0.3], [-2.34, 13.13, 0.1], [-2.331, 13.41, 0.1], [-2.314, 13.26, 0.06], [-2.289, 13.65, 0.04], [-2.251, 13.04, 0.3], [-2.241, 12.79, 0.06], [-2.079, 13.62, 0.04],
  [-1.865, 13.41, 0.06], [-1.854, 13.29, 0.08], [-1.802, 13.15, 0.08], [-1.79, 12.99, 0.1],
  [-1.712, 13.26, 0.1], [-1.7, 13.63, 0.2], [-1.691, 13.86, 0.35], [-1.678, 13.77, 0.3], [-1.666, 13.83, 0.3], [-1.649, 13.71, 0.25], [-1.64, 13.36, 0.2], [-1.626, 13.56, 0.25], [-1.615, 13.63, 0.25], [-1.603, 13.29, 0.2], [-1.586, 13.09, 0.2], [-1.572, 13.36, 0.25], [-1.555, 13.39, 0.2], [-1.541, 13.06, 0.2], [-1.529, 13.23, 0.2], [-1.517, 13.5, 0.3], [-1.503, 13.7, 0.25], [-1.49, 13.5, 0.25], [-1.473, 13.43, 0.25], [-1.461, 13.16, 0.2], [-1.444, 13.56, 0.2], [-1.432, 13.43, 0.2], [-1.418, 13.5, 0.2], [-1.401, 13.36, 0.2], [-1.387, 13.56, 0.2], [-1.37, 13.5, 0.2], [-1.358, 13.63, 0.2], [-1.346, 13.77, 0.25], [-1.332, 13.9, 0.25], [-1.319, 14.2, 0.3], [-1.307, 14.4, 0.3], [-1.29, 14.57, 0.3], [-1.273, 14.53, 0.3], [-1.256, 14.5, 0.35], [-1.239, 14.53, 0.35], [-1.227, 14.27, 0.25], [-1.213, 13.97, 0.25], [-1.2, 13.7, 0.25], [-1.188, 13.56, 0.2], [-1.17, 13.77, 0.3], [-1.153, 13.74, 0.25], [-1.136, 13.77, 0.2], [-1.119, 13.36, 0.1], [-1.11, 13.26, 0.08], [-1.097, 13.86, 0.06],
  [-0.775, 13.23, 0.1],
  [-0.604, 13.62, 0.1], [-0.575, 13.97, 0.15], [-0.558, 13.73, 0.15], [-0.537, 13.7, 0.1], [-0.512, 13.68, 0.08], [-0.495, 13.29, 0.08],
  [-0.326, 12.84, 0.04], [-0.263, 13.19, 0.06], [-0.257, 13.06, 0.06], [-0.217, 14.2, 0.12], [-0.204, 14.0, 0.1], [-0.196, 13.17, 0.15], [-0.19, 13.59, 0.2], [-0.179, 13.78, 0.15], [-0.162, 13.57, 0.15], [-0.147, 13.49, 0.15], [-0.133, 13.46, 0.12], [-0.12, 13.2, 0.1], [-0.078, 13.51, 0.15], [-0.063, 13.56, 0.12], [-0.042, 13.68, 0.1], [0.0, 13.9, 0.04],
  [0.101, 13.09, 0.05], [0.141, 12.9, 0.05], [0.152, 13.16, 0.1], [0.162, 13.38, 0.06],
  [1.495, 13.83, 0.25], [1.506, 13.5, 0.2], [1.523, 13.46, 0.2], [1.537, 13.04, 0.15], [1.552, 13.5, 0.2], [1.569, 13.56, 0.15], [1.586, 13.43, 0.15], [1.601, 13.56, 0.15], [1.615, 13.63, 0.12], [1.632, 13.5, 0.1], [1.674, 13.09, 0.3], [1.685, 13.39, 0.25], [1.7, 12.92, 0.08], [1.733, 13.9, 0.05], [1.742, 13.93, 0.05], [1.765, 13.44, 0.05], [1.826, 13.62, 0.2], [1.839, 13.33, 0.2], [1.864, 13.82, 0.25], [1.881, 14.07, 0.25], [1.896, 13.62, 0.25], [1.917, 13.62, 0.2], [1.931, 13.82, 0.2], [1.948, 14.11, 0.2], [1.969, 13.76, 0.2], [1.99, 13.48, 0.2], [2.007, 13.82, 0.2], [2.022, 13.67, 0.2], [2.037, 13.73, 0.2], [2.053, 13.9, 0.2], [2.07, 13.67, 0.2], [2.085, 13.43, 0.15], [2.096, 13.23, 0.15], [2.112, 13.06, 0.1], [2.127, 13.43, 0.1], [2.142, 13.1, 0.08], [2.155, 12.9, 0.06], [2.18, 13.0, 0.05], [2.201, 13.56, 0.1], [2.217, 13.75, 0.08], [2.232, 13.37, 0.08], [2.253, 13.62, 0.06], [2.281, 13.82, 0.06],
];
const core6: Col[] = [
  [-2.37, 12.9, 13.6], [-2.35, 12.9, 13.8], [-2.33, 13.0, 13.6], [-2.31, 13.1, 13.4], [-2.29, 13.2, 13.7], [-2.25, 12.8, 13.2], [-2.08, 13.5, 13.75],
  [-1.87, 13.1, 13.6], [-1.85, 13.1, 13.5], [-1.81, 12.9, 13.3], [-1.79, 12.8, 13.2],
  [-1.73, 13.0, 13.5], [-1.71, 13.2, 14.6], [-1.69, 13.2, 14.3], [-1.67, 13.2, 14.2], [-1.65, 13.1, 14.1], [-1.63, 13.0, 13.9], [-1.61, 12.9, 13.8], [-1.59, 12.9, 13.7], [-1.57, 12.8, 13.6], [-1.55, 12.8, 13.6], [-1.53, 12.8, 13.7], [-1.51, 12.8, 13.8], [-1.49, 12.8, 13.8], [-1.47, 12.8, 13.8], [-1.45, 12.8, 13.9], [-1.43, 12.9, 14.0], [-1.41, 12.9, 14.1], [-1.39, 12.9, 14.1], [-1.37, 13.0, 14.2], [-1.35, 13.0, 14.3], [-1.33, 13.1, 14.5], [-1.31, 13.1, 14.8], [-1.29, 13.2, 15.1], [-1.27, 13.3, 15.2], [-1.25, 13.3, 15.0], [-1.23, 13.3, 14.7], [-1.21, 13.2, 14.4], [-1.19, 13.2, 14.1], [-1.17, 13.2, 14.1], [-1.15, 13.1, 14.0], [-1.13, 13.1, 13.9], [-1.11, 13.1, 13.7],
  [-0.61, 13.3, 14.0], [-0.59, 13.3, 14.1], [-0.57, 13.3, 14.0], [-0.55, 13.3, 13.9], [-0.53, 13.3, 13.8], [-0.51, 13.3, 13.8], [-0.49, 13.2, 13.5],
  [-0.33, 12.8, 12.9], [-0.27, 12.9, 13.3], [-0.25, 13.0, 13.5], [-0.23, 13.3, 14.1], [-0.21, 13.2, 13.9], [-0.19, 13.1, 13.7], [-0.17, 13.1, 13.7], [-0.15, 13.1, 13.6], [-0.13, 13.1, 13.5], [-0.08, 13.3, 13.9], [-0.06, 13.3, 13.8], [-0.04, 13.4, 13.8],
  [0.09, 12.9, 13.2], [0.15, 12.9, 13.3],
  [1.48, 13.1, 13.9], [1.5, 13.1, 14.0], [1.52, 13.1, 13.7], [1.54, 13.1, 13.75], [1.56, 13.1, 13.7], [1.58, 13.05, 13.7], [1.6, 13.1, 13.8], [1.62, 13.1, 13.7], [1.64, 13.1, 13.7], [1.66, 13.1, 13.65], [1.68, 12.9, 13.6], [1.72, 13.7, 14.0], [1.76, 13.3, 13.6],
  [1.82, 13.2, 13.9], [1.84, 13.1, 14.1], [1.86, 13.1, 14.2], [1.88, 13.1, 14.2], [1.9, 13.1, 14.0], [1.92, 13.1, 14.1], [1.94, 13.1, 14.2], [1.96, 13.1, 14.0], [1.98, 13.1, 14.1], [2.0, 13.1, 14.2], [2.02, 13.1, 14.1], [2.04, 13.1, 14.1], [2.06, 13.0, 13.9], [2.08, 13.0, 13.7], [2.1, 12.9, 13.4], [2.12, 12.9, 13.45], [2.14, 12.85, 13.4], [2.16, 12.9, 13.35], [2.18, 12.9, 13.4], [2.2, 12.9, 13.45], [2.22, 13.4, 13.8], [2.24, 13.4, 13.85], [2.26, 13.4, 13.8], [2.28, 13.4, 13.75], [2.3, 13.5, 13.8],
];
const sparse6: Col[] = [
  [-2.36, 12.6, 14.0], [-2.32, 12.7, 13.9], [-2.27, 12.5, 13.5], [-2.08, 13.4, 13.9], [-2.04, 12.7, 13.2], [-1.88, 12.5, 13.7], [-1.82, 12.6, 13.5], [-1.74, 12.5, 13.7], [-1.72, 12.6, 14.7], [-1.68, 12.6, 14.5], [-1.64, 12.5, 14.4], [-1.6, 12.5, 14.2], [-1.56, 12.4, 14.1], [-1.52, 12.4, 14.4], [-1.48, 12.4, 14.2], [-1.44, 12.4, 14.3], [-1.4, 12.4, 14.4], [-1.36, 12.5, 14.6], [-1.32, 12.5, 15.0], [-1.28, 12.6, 15.4], [-1.24, 12.7, 15.2], [-1.2, 12.7, 14.7], [-1.16, 12.7, 14.5], [-1.12, 12.8, 14.3], [-1.1, 12.8, 14.0],
  [-0.97, 12.7, 13.3], [-0.94, 12.9, 13.3], [-0.9, 12.6, 13.1], [-0.86, 12.8, 13.4], [-0.82, 12.9, 13.2], [-0.65, 12.6, 13.5], [-0.6, 12.8, 14.3], [-0.56, 12.9, 14.2], [-0.52, 12.9, 14.0], [-0.47, 13.0, 13.7], [-0.42, 12.8, 13.2],
  [-0.3, 12.6, 13.6], [-0.26, 12.6, 13.9], [-0.22, 12.6, 14.4], [-0.18, 12.5, 14.1], [-0.14, 12.5, 13.9], [-0.11, 12.7, 13.7], [-0.07, 12.8, 14.1], [-0.02, 13.0, 14.0], [0.12, 12.6, 13.6], [0.16, 12.5, 13.8], [0.2, 12.8, 13.3], [0.25, 13.1, 13.3],
  [1.49, 12.5, 14.8], [1.53, 12.5, 14.3], [1.57, 12.5, 14.1], [1.61, 12.5, 14.0], [1.65, 12.4, 13.9], [1.69, 12.4, 14.0], [1.74, 13.3, 14.1], [1.78, 13.0, 13.9], [1.83, 12.7, 14.3], [1.87, 12.6, 14.6], [1.91, 12.5, 14.4], [1.95, 12.5, 14.8], [1.99, 12.5, 14.5], [2.03, 12.5, 14.6], [2.07, 12.5, 14.3], [2.11, 12.6, 13.9], [2.15, 12.6, 13.8], [2.19, 12.7, 13.8], [2.23, 12.9, 14.1], [2.27, 13.0, 14.0], [2.33, 13.2, 13.8], [2.45, 13.8, 13.9],
];

const allPoints = [pts1, pts2, pts3, pts4, pts5, pts6];
const allCore = [core1, core2, core3, core4, core5, core6];
const allSparse = [sparse1, sparse2, sparse3, sparse4, sparse5, sparse6];

const textStyle = { fontFamily: FONT, fill: '#000' };

const Empty = () => <g />;

const XMark = (p: any) => {
  const { cx, cy } = p;
  if (cx == null || cy == null) return <g />;
  const s = 3.4;
  return (
    <path
      d={`M${cx - s},${cy - s}L${cx + s},${cy + s}M${cx - s},${cy + s}L${cx + s},${cy - s}`}
      stroke="#000"
      strokeWidth={2}
      fill="none"
    />
  );
};

const isMajor = (v: number) => Math.abs(v - Math.round(v)) < 1e-6;

const BottomTick = (p: any) => {
  const { x, y, payload, showLabels } = p;
  const v = payload.value;
  const major = isMajor(v);
  const len = major ? 7 : 3.5;
  const li = xMajorTicks.indexOf(Math.round(v));
  return (
    <g>
      <line x1={x} x2={x} y1={y} y2={y - len} stroke="#000" strokeWidth={1} />
      {showLabels && major && li >= 0 ? (
        <text x={x} y={y + 24} textAnchor="middle" fontSize={24} style={textStyle}>
          {xTickLabels[li]}
        </text>
      ) : null}
    </g>
  );
};

const TopTick = (p: any) => {
  const { x, y } = p;
  return <line x1={x} x2={x} y1={y} y2={y + 7} stroke="#000" strokeWidth={1} />;
};

const AnnotTick = (p: any) => {
  const { x, y, index } = p;
  const l1 = annotLine1[index];
  const l2 = annotLine2[index];
  const bottom = y - 9;
  const two = l2 !== '';
  const b1 = two ? x - 4 : x + 7;
  const b2 = x + 19;
  const mid2 = y - 61;
  return (
    <g>
      {annotHasTick[index] ? <line x1={x} x2={x} y1={y} y2={y + 7} stroke="#000" strokeWidth={1} /> : null}
      <text x={b1} y={bottom} transform={`rotate(-90 ${b1} ${bottom})`} textAnchor="start" fontSize={25} style={textStyle}>
        {l1}
      </text>
      {two ? (
        <text x={b2} y={mid2} transform={`rotate(-90 ${b2} ${mid2})`} textAnchor="middle" fontSize={25} style={textStyle}>
          {l2}
        </text>
      ) : null}
    </g>
  );
};

const LeftTick = (p: any) => {
  const { x, y, payload } = p;
  const v = payload.value;
  const major = isMajor(v);
  const len = major ? 7 : 3.5;
  const li = yMajorTicks.indexOf(Math.round(v));
  return (
    <g>
      <line x1={x} x2={x + len} y1={y} y2={y} stroke="#000" strokeWidth={1} />
      {major && li >= 0 ? (
        <text x={x - 5} y={y + 8.5} textAnchor="end" fontSize={24} style={textStyle}>
          {yTickLabels[li]}
        </text>
      ) : null}
    </g>
  );
};

const PanelLabel = (label: string) => (p: any) => (
  <text x={p.cx} y={p.cy} textAnchor="start" fontSize={24} style={textStyle}>
    {label}
  </text>
);

const TauText = (p: any) => (
  <text x={p.cx} y={p.cy} textAnchor="middle" fontSize={26} style={{ fontFamily: FONT, fill: '#ff0000' }}>
    <tspan fontStyle="italic">τ</tspan>
    <tspan fontStyle="italic" fontSize={18} dy={6}>ff</tspan>
    <tspan dy={-6}> = 0.34 Myr</tspan>
  </text>
);

const YLabel = (p: any) => {
  const bx = p.cx - 48;
  const cy = p.cy;
  return (
    <text x={bx} y={cy} transform={`rotate(-90 ${bx} ${cy})`} textAnchor="middle" fontSize={24} style={textStyle}>
      log
      <tspan dy={5} fontSize={16}>10</tspan>
      <tspan dy={-5}> N [cm</tspan>
      <tspan dy={-9} fontSize={16}>−2</tspan>
      <tspan dy={9}>]</tspan>
    </text>
  );
};

function Panel({ index }: { index: number }) {
  const isFirst = index === 0;
  const isLast = index === 5;
  const topH = isFirst ? TOP0 : 0;
  const bottomH = isLast ? 72 : 0;
  const extraBottom = isLast ? 0 : 14;
  const top = TOP0 + index * PLOT_H - topH;
  const pointData = allPoints[index].map(([t, v, e]) => ({ t, v, e }));
  const coreData = allCore[index].map(([t, lo, hi]) => ({ t, v: lo, e: [0, hi - lo] }));
  const sparseData = allSparse[index].map(([t, lo, hi]) => ({ t, v: lo, e: [0, hi - lo] }));
  const axisLine = { stroke: '#000', strokeWidth: 1.5 };
  return (
    <div style={{ position: 'absolute', left: 0, top }}>
      <ScatterChart
        width={1050}
        height={topH + PLOT_H + bottomH + extraBottom}
        margin={{ top: 0, right: 4, bottom: extraBottom, left: 0 }}
      >
        <XAxis
          xAxisId="b"
          type="number"
          dataKey="t"
          domain={X_DOMAIN}
          allowDataOverflow
          ticks={xTicks}
          interval={0}
          height={bottomH}
          tickSize={0}
          tickMargin={0}
          tickLine={false}
          axisLine={axisLine}
          tick={(p: any) => <BottomTick {...p} showLabels={isLast} />}
        />
        <XAxis
          xAxisId="top"
          orientation="top"
          type="number"
          dataKey="t"
          domain={X_DOMAIN}
          allowDataOverflow
          ticks={isFirst ? annotTimes : xMajorTicks}
          interval={0}
          height={topH}
          tickSize={0}
          tickMargin={0}
          tickLine={false}
          axisLine={axisLine}
          tick={isFirst ? (p: any) => <AnnotTick {...p} /> : (p: any) => <TopTick {...p} />}
        />
        <YAxis
          yAxisId="l"
          type="number"
          dataKey="v"
          domain={Y_DOMAIN}
          allowDataOverflow
          ticks={yTicks}
          interval={0}
          width={80}
          tickSize={0}
          tickMargin={0}
          tickLine={false}
          axisLine={axisLine}
          tick={(p: any) => <LeftTick {...p} />}
        />
        {pericenterTimes.map((x) => (
          <ReferenceLine key={x} xAxisId="b" yAxisId="l" x={x} stroke="#9a9a9a" strokeWidth={1} strokeDasharray="4 3" />
        ))}
        <Scatter xAxisId="b" yAxisId="l" data={sparseData} shape={Empty} isAnimationActive={false}>
          <ErrorBar dataKey="e" direction="y" width={0} stroke="#d8d8d8" strokeWidth={1.6} strokeDasharray="1 3" isAnimationActive={false} />
        </Scatter>
        <Scatter xAxisId="b" yAxisId="l" data={coreData} shape={Empty} isAnimationActive={false}>
          <ErrorBar dataKey="e" direction="y" width={0} stroke="#d3d3d3" strokeWidth={4} isAnimationActive={false} />
        </Scatter>
        <Scatter xAxisId="b" yAxisId="l" data={pointData} shape={XMark} isAnimationActive={false}>
          <ErrorBar dataKey="e" direction="y" width={0} stroke="#000" strokeWidth={1.2} isAnimationActive={false} />
        </Scatter>
        <ReferenceDot xAxisId="b" yAxisId="l" x={-2.417} y={15.92} r={0} ifOverflow="visible" shape={PanelLabel(panelLabels[index])} />
        {isFirst ? (
          <ReferenceLine
            xAxisId="b"
            yAxisId="l"
            segment={[{ x: tauBarStart, y: tauBarLevel }, { x: tauBarEnd, y: tauBarLevel }]}
            stroke="#ff0000"
            strokeWidth={4.5}
          />
        ) : null}
        {isFirst ? (
          <ReferenceDot xAxisId="b" yAxisId="l" x={tauTextTime} y={tauTextLevel} r={0} ifOverflow="visible" shape={TauText} />
        ) : null}
        {isLast ? (
          <ReferenceDot xAxisId="b" yAxisId="l" x={-2.494} y={14.303} r={0} ifOverflow="visible" shape={YLabel} />
        ) : null}
        {isLast ? (
          <ReferenceDot
            xAxisId="b"
            yAxisId="l"
            x={0}
            y={12}
            r={0}
            ifOverflow="visible"
            shape={(p: any) => (
              <text x={p.cx} y={p.cy + 57} textAnchor="middle" fontSize={25} style={textStyle}>
                time [Myr]
              </text>
            )}
          />
        ) : null}
      </ScatterChart>
    </div>
  );
}

export default function App() {
  return (
    <div style={{ position: 'absolute', left: 0, top: 0, width: 1045, height: 1550, overflow: 'hidden', background: '#fff' }}>
      {[0, 1, 2, 3, 4, 5].map((i) => (
        <Panel key={i} index={i} />
      ))}
    </div>
  );
}
